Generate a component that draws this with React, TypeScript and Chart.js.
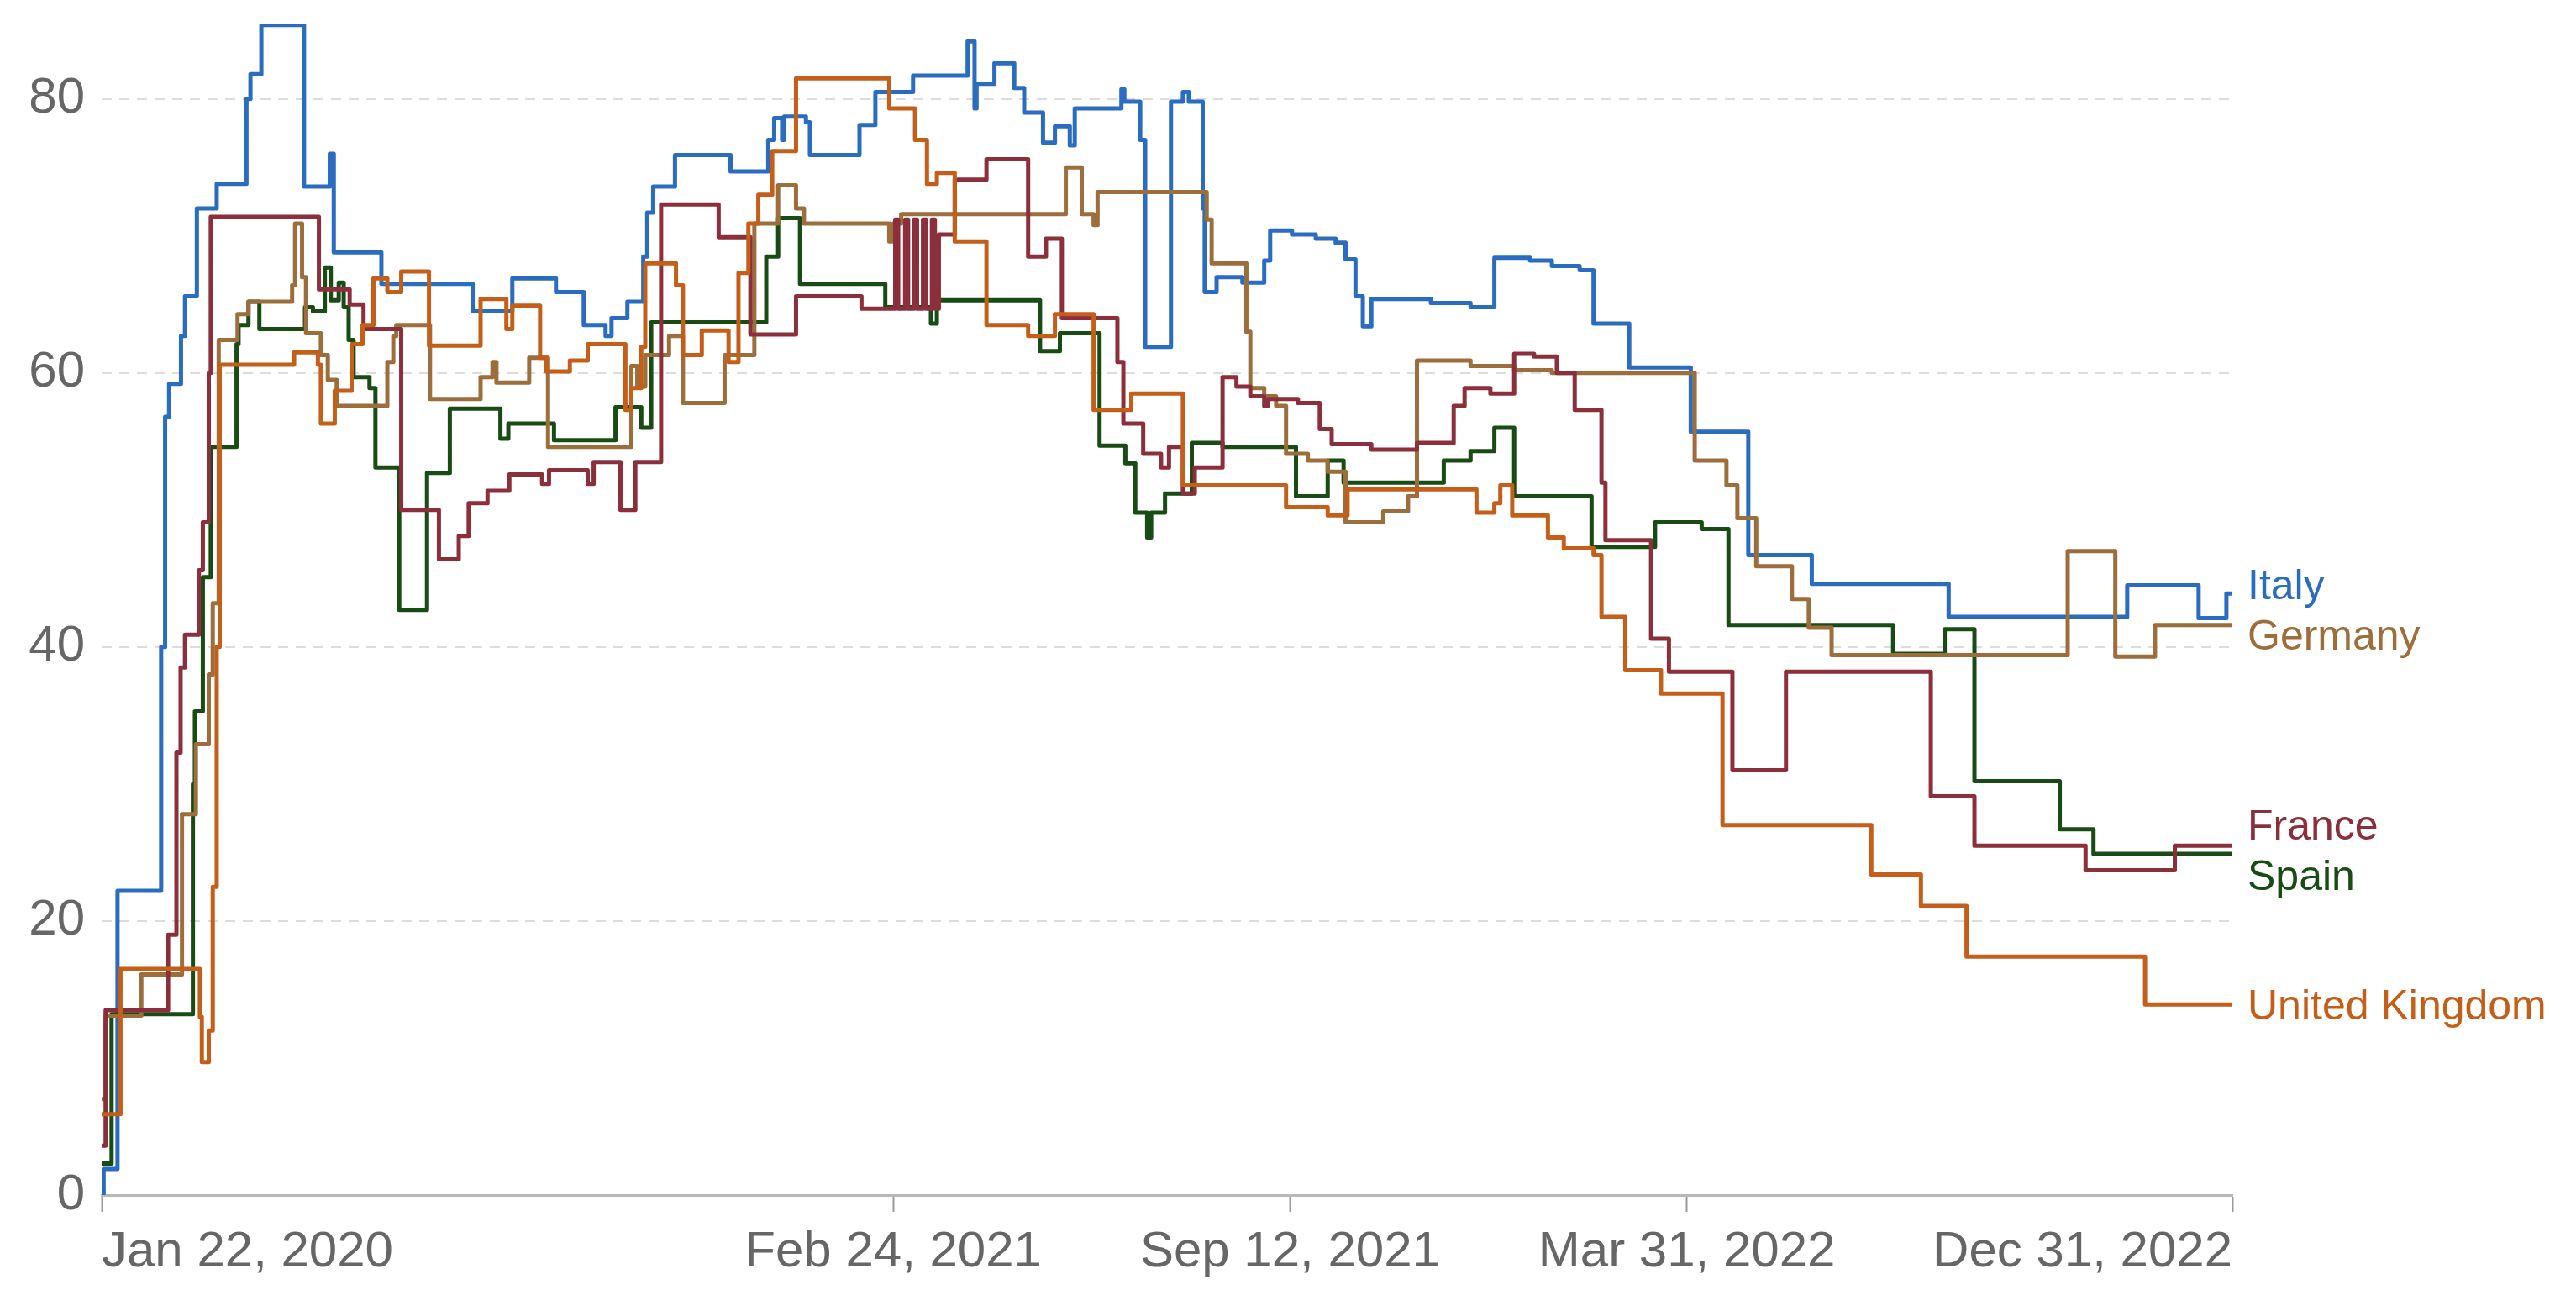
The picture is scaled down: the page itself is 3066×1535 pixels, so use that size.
import React, { useEffect, useRef } from "react";
import { Chart, registerables } from "chart.js";

Chart.register(...registerables);

// x = days since Jan 22, 2020 ; each pair = [day the value starts, value]
const X_TICK_DAYS = [0, 399, 599, 799, 1074];
const X_TICK_LABELS = ["Jan 22, 2020", "Feb 24, 2021", "Sep 12, 2021", "Mar 31, 2022", "Dec 31, 2022"];
const Y_TICKS = [0, 20, 40, 60, 80];
const LAST_DAY = 1074;

const italy: [number, number][] = [
  [0, 0], [1, 1.9], [8, 22.2], [30, 40], [32, 56.8], [34, 59.2], [40, 62.7], [42, 65.6], [48, 72], [58, 73.8],
  [73, 80], [75, 81.8], [80.5, 85.4], [102, 73.6], [115, 76], [117, 68.8], [141, 66.5], [187, 64.5], [207, 66.9],
  [229, 65.9], [243, 63.5], [254, 62.7], [257, 64], [265, 65.2], [273, 68.5], [275, 71.7], [278, 73.6], [289, 75.9],
  [317, 74.7], [336, 77], [339, 78.6], [343, 77], [344, 78.7], [355, 78.3], [357, 75.9], [382, 78.1], [390, 80.5],
  [409, 81.7], [436.5, 84.2], [440, 79.3], [441, 81.1], [450, 82.6], [460, 80.8], [465, 79], [474.5, 76.8],
  [480.5, 78], [488, 76.6], [490.5, 79.3], [514, 80.7], [515.5, 79.8], [523.5, 77], [526, 61.9], [539, 79.8],
  [545, 80.5], [548, 79.8], [555, 72], [556, 65.9], [562, 67], [575, 66.6], [586, 68.2], [589, 70.4], [600, 70.1],
  [612, 69.8], [622, 69.5], [627, 68.3], [632, 65.6], [635.7, 63.4], [640, 65.4], [670, 65.1], [690, 64.8],
  [702, 68.4], [720, 68.2], [731, 67.8], [745, 67.5], [752, 63.6], [770, 60.4], [801, 55.7], [830, 46.7],
  [862, 44.6], [931, 42.2], [1021, 44.5], [1057, 42.1], [1071, 43.9],
];

const germany: [number, number][] = [
  [0, 7], [2, 13.1], [20, 16.1], [40.5, 27.8], [47.5, 32.9], [54, 38], [56, 43.2], [59, 62.4], [68.5, 64.3],
  [74, 65.2], [96, 66.4], [97.5, 70.9], [101, 67], [103, 62.9], [110.5, 61.3], [114, 59.5], [118.5, 57.6],
  [144, 60.8], [147, 62.7], [148.5, 63.5], [165.5, 58.1], [191, 59.7], [197, 60.8], [199, 59.3], [215.5, 61.1],
  [225, 54.6], [267, 60.5], [270, 59], [274, 61.3], [286, 62.7], [293, 57.8], [314, 61.3], [329, 70.9], [341, 73.7],
  [350, 72], [354, 70.9], [397, 69.6], [399, 70.9], [403, 71.6], [486, 75], [494, 71.6], [500, 70.8], [502, 73.2],
  [557, 71.2], [559.5, 68], [577, 63], [579, 58.9], [586, 58.3], [592, 57.6], [597, 54.1], [608, 53.6],
  [618, 52.8], [627, 49.1], [646, 49.9], [658.5, 51], [663, 60.9], [690, 60.5], [712, 60.2], [731, 60],
  [803, 53.6], [819, 51.8], [824.5, 49.4], [834, 45.9], [852, 43.5], [860.5, 41.4], [872, 39.4], [991, 47],
  [1015, 39.3], [1035, 41.6],
];

const france: [number, number][] = [
  [0, 3.6], [2, 13.5], [33.5, 19], [37.7, 32.3], [39.8, 38.5], [42, 40.9], [49, 45.6], [51, 49.1], [54, 60],
  [55, 71.4], [109.5, 66.1], [125, 65], [132, 63.2], [151, 50], [170, 46.4], [180, 48.1], [185, 50.5],
  [194.5, 51.4], [205.5, 52.6], [222, 51.9], [225.5, 52.9], [245, 51.9], [248, 53.5], [261.5, 50], [269, 53.5],
  [282, 72.3], [311, 69.9], [327, 62.8], [350, 65.6], [383, 64.7], [400, 71.2], [401.5, 64.7], [405, 71.2],
  [406.5, 64.7], [409.5, 71.2], [411, 64.7], [414, 71.2], [415.5, 64.7], [418.5, 71.2], [420, 64.7], [422, 70.1],
  [430, 74.1], [446, 75.6], [467, 68.5], [476, 69.8], [484, 64], [512, 60.8], [515, 56.3], [525, 54.1],
  [534, 53.1], [538, 54.6], [545, 51.2], [551, 53.1], [565, 59.7], [572, 59], [579, 58.3], [586, 57.6],
  [588, 58.1], [603, 57.8], [614, 55.9], [620, 54.8], [640, 54.4], [663, 54.9], [681.5, 57.6], [687, 58.9],
  [700, 58.5], [712, 61.4], [722, 61.2], [733.5, 60], [742.5, 57.3], [756, 52], [758, 47.8], [781, 40.6],
  [790, 38.2], [822, 31], [849, 38.2], [922, 29.1], [944, 25.5], [1000, 23.7], [1045, 25.5],
];

const spain: [number, number][] = [
  [0, 2.3], [5, 13.2], [46, 30], [47, 35.3], [51, 45.1], [55, 54.6], [68, 62.1], [69, 63.5], [74, 65.2],
  [79.5, 63.2], [102.5, 64.8], [106.5, 64.5], [112.5, 67.7], [115.5, 65.3], [119.5, 66.6], [122, 64.8],
  [124.5, 62.4], [127, 59.7], [135, 58.9], [138, 53.1], [150, 42.7], [164, 52.7], [175.5, 57.4], [201, 55.2],
  [205, 56.3], [228, 55.1], [259, 57.5], [272, 56], [277, 63.7], [335, 68.5], [341, 71.3], [352, 66.5],
  [395, 64.8], [418, 63.6], [421, 65.3], [473, 61.6], [483, 62.9], [503, 54.7], [516, 53.4], [521, 49.8],
  [527, 48], [529, 49.8], [536, 51.2], [549.5, 54.9], [565, 54.6], [602, 51], [618, 53.6], [626, 52],
  [676.5, 53.6], [690, 54.3], [702, 56], [712, 51], [751, 47.3], [783, 49.1], [806.5, 48.6], [820, 41.6],
  [903, 39.5], [929, 41.3], [944, 30.2], [987, 26.7], [1004, 24.9],
];

const unitedKingdom: [number, number][] = [
  [0, 5.9], [9.5, 16.5], [49.5, 13], [50.5, 9.7], [54, 12], [56, 22.5], [58, 40], [59.5, 60.6], [97, 61.5],
  [109, 60.6], [110.5, 56.3], [117.5, 58.7], [126, 62.1], [131.5, 63.5], [137, 66.9], [144, 65.9], [151, 67.4],
  [165, 62], [191, 65.4], [204, 63.2], [207, 64.9], [221, 61.1], [224, 60.1], [236, 60.9], [245, 62.1],
  [264, 57.3], [267, 58.9], [272, 61.9], [274, 68], [289.5, 66.4], [293, 61.3], [302.5, 63.1], [316, 60.8],
  [321, 67.3], [326, 70.9], [331, 73], [338, 76.2], [350, 81.5], [397, 79.3], [410, 77], [416, 73.8],
  [421, 74.6], [430, 69.6], [446, 63.5], [467, 62.7], [480.5, 64.3], [500, 57.3], [519, 58.5], [545, 51.8],
  [597, 50.2], [618, 49.6], [628, 51.5], [693, 49.8], [702, 50.5], [705, 51.8], [711, 49.6], [729, 48],
  [737, 47.2], [752, 46.7], [756, 42.2], [768, 38.3], [786, 36.6], [817, 27], [892, 23.4], [917, 21.1],
  [940, 17.4], [1030, 13.9],
];

const SERIES_NAMES = ["United Kingdom", "France", "Germany", "Spain", "Italy"];
const SERIES_COLORS = ["#c35f19", "#8a2f3b", "#9b6e3c", "#194b14", "#2a6cbf"];
const SERIES_DATA = [unitedKingdom, france, germany, spain, italy];

const FONT_FAMILY = '"Liberation Sans", Arial, Helvetica, sans-serif';

const endLabels = {
  id: "endLabels",
  afterDatasetsDraw(chart: any) {
    const { ctx, chartArea, scales } = chart;
    const items = chart.data.datasets.map((ds: any) => {
      const last = ds.data[ds.data.length - 1];
      return { text: ds.label, color: ds.borderColor, y: scales.y.getPixelForValue(last.y) };
    });
    items.sort((a: any, b: any) => a.y - b.y);
    const gap = 60;
    for (let iter = 0; iter < 100; iter++) {
      let moved = false;
      for (let i = 0; i < items.length - 1; i++) {
        const d = items[i + 1].y - items[i].y;
        if (d < gap - 0.01) {
          const s = (gap - d) / 2;
          items[i].y -= s;
          items[i + 1].y += s;
          moved = true;
        }
      }
      if (!moved) break;
    }
    ctx.save();
    ctx.font = `50px ${FONT_FAMILY}`;
    ctx.textBaseline = "middle";
    ctx.textAlign = "left";
    for (const it of items) {
      ctx.fillStyle = it.color;
      ctx.fillText(it.text, chartArea.right + 18, it.y + 4);
    }
    ctx.restore();
  },
};

export default function App() {
  const ref = useRef<HTMLCanvasElement | null>(null);

  useEffect(() => {
    if (!ref.current) return;
    const datasets = SERIES_DATA.map((pts, i) => ({
      label: SERIES_NAMES[i],
      data: [...pts.map(([d, v]) => ({ x: d, y: v })), { x: LAST_DAY, y: pts[pts.length - 1][1] }],
      borderColor: SERIES_COLORS[i],
      backgroundColor: SERIES_COLORS[i],
      borderWidth: 5,
      stepped: true,
      pointRadius: 0,
      fill: false,
      borderJoinStyle: "round" as const,
      borderCapStyle: "round" as const,
    }));

    const chart = new Chart(ref.current, {
      type: "line",
      data: { datasets },
      options: {
        animation: false,
        responsive: false,
        maintainAspectRatio: false,
        layout: { padding: { left: 0, right: 409, top: 28, bottom: 0 } },
        plugins: { legend: { display: false }, tooltip: { enabled: false } },
        scales: {
          x: {
            type: "linear",
            min: 0,
            max: LAST_DAY,
            afterBuildTicks: (s: any) => {
              s.ticks = X_TICK_DAYS.map((v) => ({ value: v }));
            },
            afterFit: (s: any) => {
              s.height = 113;
              s.paddingLeft = 0;
              s.paddingRight = 0;
            },
            ticks: {
              autoSkip: false,
              maxRotation: 0,
              minRotation: 0,
              align: "inner",
              padding: 12,
              color: "#666666",
              font: { family: FONT_FAMILY, size: 60 },
              callback: (v: any) => {
                const i = X_TICK_DAYS.indexOf(Number(v));
                return i >= 0 ? X_TICK_LABELS[i] : "";
              },
            },
            grid: {
              drawOnChartArea: false,
              drawTicks: true,
              tickLength: 20,
              tickColor: "#9a9a9a",
              tickWidth: 2,
            },
            border: { display: true, color: "#b8b8b8", width: 3 },
          },
          y: {
            type: "linear",
            min: 0,
            max: 85.5,
            afterBuildTicks: (s: any) => {
              s.ticks = Y_TICKS.map((v) => ({ value: v }));
            },
            afterFit: (s: any) => {
              s.width = 121;
              s.paddingTop = 0;
              s.paddingBottom = 0;
            },
            ticks: {
              padding: 20,
              color: "#666666",
              font: { family: FONT_FAMILY, size: 60 },
              callback: (v: any) => String(v),
            },
            grid: {
              drawTicks: false,
              lineWidth: 2,
              color: (c: any) => (c.tick && c.tick.value === 0 ? "rgba(0,0,0,0)" : "#dcdcdc"),
            },
            border: { display: false, dash: [12, 9] },
          },
        },
      },
      plugins: [endLabels],
    });
    return () => chart.destroy();
  }, []);

  return (
    <div style={{ position: "fixed", left: 0, top: 0, width: 3066, height: 1535, background: "#fff" }}>
      <canvas ref={ref} width={3066} height={1535} style={{ width: 3066, height: 1535, display: "block" }} />
    </div>
  );
}
